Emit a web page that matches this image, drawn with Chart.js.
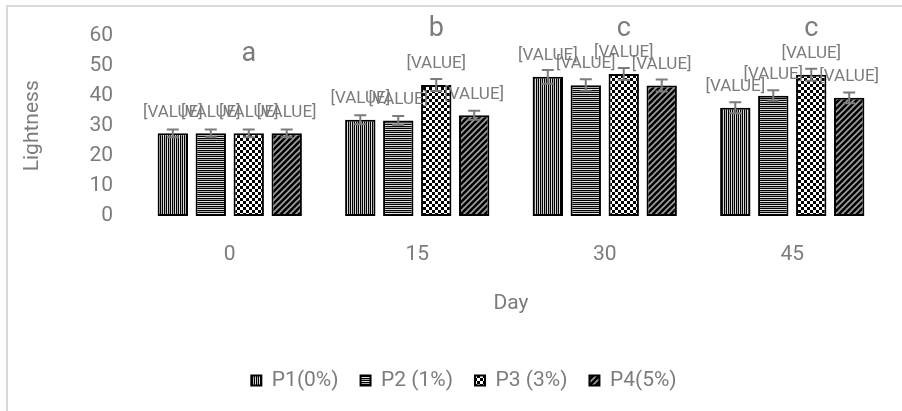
<!DOCTYPE html>
<html>
<head>
<meta charset="utf-8">
<script src="https://cdn.jsdelivr.net/npm/chart.js@4"></script>
<style>
  html, body { margin: 0; padding: 0; background: #ffffff; }
  #wrap { width: 902px; height: 411px; }
</style>
</head>
<body>
<div id="wrap"><canvas id="lightChart" width="902" height="411"></canvas></div>
<script>
// dados
const days = ['0', '15', '30', '45'];
const seriesNames = ['P1(0%)', 'P2 (1%)', 'P3 (3%)', 'P4(5%)'];
const p1Values = [27.5, 32.0, 46.3, 36.0];
const p2Values = [27.5, 31.8, 43.5, 40.0];
const p3Values = [27.5, 43.6, 47.2, 47.0];
const p4Values = [27.5, 33.5, 43.4, 39.3];
const p1Errors = [1.3, 1.5, 2.3, 1.8];
const p2Errors = [1.3, 1.5, 2.0, 1.8];
const p3Errors = [1.3, 2.0, 2.0, 2.0];
const p4Errors = [1.3, 1.5, 2.0, 1.8];
const groupLetters = ['a', 'b', 'c', 'c'];
const yTicks = [0, 10, 20, 30, 40, 50, 60];

const GREY = '#7c7c7c';

// padrões de preenchimento (estilo Excel)
function makePattern(size, draw) {
    const c = document.createElement('canvas');
    c.width = size; c.height = size;
    const g = c.getContext('2d');
    g.fillStyle = '#000000';
    g.fillRect(0, 0, size, size);
    draw(g, size);
    return document.getElementById('lightChart').getContext('2d').createPattern(c, 'repeat');
}

const patVertical = makePattern(4, (g) => {
    g.fillStyle = '#b4b4b4'; g.fillRect(1, 0, 1, 4);
    g.fillStyle = '#dcdcdc'; g.fillRect(3, 0, 1, 4);
});
const patHorizontal = makePattern(4, (g) => {
    g.fillStyle = '#e4e4e4'; g.fillRect(0, 1, 4, 1);
    g.fillStyle = '#a8a8a8'; g.fillRect(0, 3, 4, 1);
});
const patChecker = makePattern(6, (g) => {
    g.fillStyle = '#ffffff';
    g.fillRect(3, 0, 3, 3);
    g.fillRect(0, 3, 3, 3);
});
const patDiagonal = makePattern(6, (g) => {
    g.strokeStyle = '#a0a0a0'; g.lineWidth = 1.6;
    g.beginPath();
    g.moveTo(-1, 7); g.lineTo(7, -1);
    g.moveTo(-4, 4); g.lineTo(4, -4);
    g.moveTo(2, 10); g.lineTo(10, 2);
    g.stroke();
});

function makeDataset(i, values, errors, pattern) {
    return {
        label: seriesNames[i],
        data: values,
        errors: errors,
        backgroundColor: pattern,
        borderColor: '#000000',
        borderWidth: 2,
        borderSkipped: false
    };
}

// moldura cinza em volta da figura
const framePlugin = {
    id: 'frame',
    beforeDraw(chart) {
        const ctx = chart.ctx;
        ctx.save();
        ctx.fillStyle = '#ffffff';
        ctx.fillRect(0, 0, chart.width, chart.height);
        ctx.strokeStyle = '#d9d9d9';
        ctx.lineWidth = 2;
        ctx.strokeRect(7, 6, chart.width + 20, chart.height + 20);
        ctx.restore();
    }
};

// desloca a legenda um pouco para a direita, como no original
const legendShiftPlugin = {
    id: 'legendShift',
    afterLayout(chart) {
        if (!chart.legend) return;
        chart.legend.left += 16;
        chart.legend.right += 16;
    }
};

// barras de erro
const errorBarPlugin = {
    id: 'errorBars',
    afterDatasetsDraw(chart) {
        const ctx = chart.ctx;
        const y = chart.scales.y;
        ctx.save();
        ctx.strokeStyle = GREY;
        ctx.lineWidth = 2;
        chart.data.datasets.forEach((ds, i) => {
            chart.getDatasetMeta(i).data.forEach((bar, j) => {
                const top = y.getPixelForValue(ds.data[j] + ds.errors[j]);
                const bot = y.getPixelForValue(ds.data[j] - ds.errors[j]);
                ctx.beginPath();
                ctx.moveTo(bar.x, top); ctx.lineTo(bar.x, bot);
                ctx.moveTo(bar.x - 6, top); ctx.lineTo(bar.x + 6, top);
                ctx.moveTo(bar.x - 6, bot); ctx.lineTo(bar.x + 6, bot);
                ctx.stroke();
            });
        });
        ctx.restore();
    }
};

// rótulos "[VALUE]" e letras de significância
const labelPlugin = {
    id: 'valueLabels',
    afterDraw(chart) {
        const ctx = chart.ctx;
        ctx.save();
        ctx.fillStyle = GREY;
        ctx.textAlign = 'center';
        ctx.textBaseline = 'middle';
        ctx.font = '17px Roboto';
        chart.data.datasets.forEach((ds, i) => {
            chart.getDatasetMeta(i).data.forEach((bar) => {
                ctx.fillText('[VALUE]', bar.x, bar.y - 21);
            });
        });
        ctx.font = '27px Roboto';
        const p3Bars = chart.getDatasetMeta(2).data;
        groupLetters.forEach((letter, j) => {
            const bar = p3Bars[j];
            const ly = Math.max(chart.chartArea.top - 6, bar.y - 79);
            ctx.fillText(letter, bar.x, ly);
        });
        ctx.restore();
    }
};

Chart.defaults.font.family = 'Roboto';
Chart.defaults.color = GREY;

new Chart(document.getElementById('lightChart').getContext('2d'), {
    type: 'bar',
    data: {
        labels: days,
        datasets: [
            makeDataset(0, p1Values, p1Errors, patVertical),
            makeDataset(1, p2Values, p2Errors, patHorizontal),
            makeDataset(2, p3Values, p3Errors, patChecker),
            makeDataset(3, p4Values, p4Errors, patDiagonal)
        ]
    },
    options: {
        responsive: false,
        animation: false,
        layout: { padding: { top: 21, left: 10, right: 16, bottom: 10 } },
        datasets: { bar: { categoryPercentage: 0.81, barPercentage: 0.8 } },
        plugins: {
            legend: {
                position: 'bottom',
                labels: {
                    boxWidth: 10,
                    boxHeight: 10,
                    padding: 22,
                    color: GREY,
                    font: { size: 21 }
                }
            },
            tooltip: { enabled: false }
        },
        scales: {
            x: {
                grid: { display: false, drawTicks: false },
                border: { display: false },
                ticks: { padding: 26, font: { size: 21 }, color: GREY },
                title: { display: true, text: 'Day', font: { size: 21 }, color: GREY, padding: { top: 0, bottom: 32 } },
                afterFit(scale) { scale.height = 132; }
            },
            y: {
                min: 0,
                max: 60,
                grid: { display: false, drawTicks: false },
                border: { display: false },
                afterBuildTicks(scale) { scale.ticks = yTicks.map(v => ({ value: v })); },
                ticks: { padding: 23, font: { size: 21 }, color: GREY },
                title: { display: true, text: 'Lightness', font: { size: 21 }, color: GREY, padding: { top: 10, bottom: 40 } },
                afterFit(scale) { scale.width = 126; }
            }
        }
    },
    plugins: [framePlugin, legendShiftPlugin, errorBarPlugin, labelPlugin]
});
</script>
</body>
</html>
